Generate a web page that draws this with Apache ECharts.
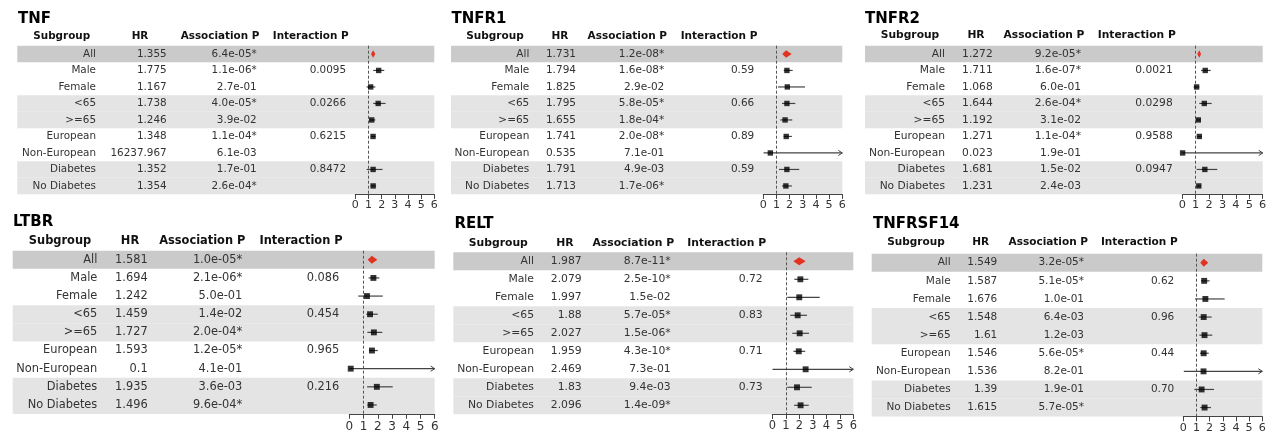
<!DOCTYPE html>
<html><head><meta charset="utf-8">
<script src="https://cdn.jsdelivr.net/npm/echarts@6/dist/echarts.min.js"></script>
<style>html,body{margin:0;padding:0;background:#fff}#c{width:1272px;height:435px}</style>
</head><body><div id="c"></div>
<script>
// ---------- data ----------
const subgroups = ['All', 'Male', 'Female', '<65', '>=65', 'European', 'Non-European', 'Diabetes', 'No Diabetes'];
const headers = ['Subgroup', 'HR', 'Association P', 'Interaction P'];
const xTicks = [0, 1, 2, 3, 4, 5, 6];
const refLine = 1;
const rowShade = ['dark', 'none', 'none', 'light', 'light', 'none', 'none', 'light', 'light'];

const tnfHR     = [1.355, 1.775, 1.167, 1.738, 1.246, 1.348, 16237.967, 1.352, 1.354];
const tnfLower  = [1.19, 1.36, 0.86, 1.36, 1.06, 1.18, 12.5, 0.86, 1.16];
const tnfUpper  = [1.52, 2.20, 1.52, 2.30, 1.52, 1.54, 21000000, 2.07, 1.58];
const tnfAssocP = ['6.4e-05*', '1.1e-06*', '2.7e-01', '4.0e-05*', '3.9e-02', '1.1e-04*', '6.1e-03', '1.7e-01', '2.6e-04*'];
const tnfInterP = ['', '0.0095', '', '0.0266', '', '0.6215', '', '0.8472', ''];

const tnfr1HR     = [1.731, 1.794, 1.825, 1.795, 1.655, 1.741, 0.535, 1.791, 1.713];
const tnfr1Lower  = [1.44, 1.55, 1.12, 1.42, 1.29, 1.55, 0.02, 1.19, 1.42];
const tnfr1Upper  = [2.15, 2.23, 3.17, 2.43, 2.20, 2.17, 14.5, 2.73, 2.17];
const tnfr1AssocP = ['1.2e-08*', '1.6e-08*', '2.9e-02', '5.8e-05*', '1.8e-04*', '2.0e-08*', '7.1e-01', '4.9e-03', '1.7e-06*'];
const tnfr1InterP = ['', '0.59', '', '0.66', '', '0.89', '', '0.59', ''];

const tnfr2HR     = [1.272, 1.711, 1.068, 1.644, 1.192, 1.271, 0.023, 1.681, 1.231];
const tnfr2Lower  = [1.12, 1.40, 0.85, 1.27, 1.03, 1.12, 0.0001, 1.07, 1.08];
const tnfr2Upper  = [1.40, 2.12, 1.27, 2.19, 1.38, 1.44, 6.6, 2.61, 1.40];
const tnfr2AssocP = ['9.2e-05*', '1.6e-07*', '6.0e-01', '2.6e-04*', '3.1e-02', '1.1e-04*', '1.9e-01', '1.5e-02', '2.4e-03'];
const tnfr2InterP = ['', '0.0021', '', '0.0298', '', '0.9588', '', '0.0947', ''];

const ltbrHR     = [1.581, 1.694, 1.242, 1.459, 1.727, 1.593, 0.1, 1.935, 1.496];
const ltbrLower  = [1.29, 1.36, 0.63, 1.20, 1.27, 1.38, 0.0004, 1.25, 1.27];
const ltbrUpper  = [1.97, 2.11, 2.35, 2.00, 2.32, 2.00, 24, 3.05, 1.93];
const ltbrAssocP = ['1.0e-05*', '2.1e-06*', '5.0e-01', '1.4e-02', '2.0e-04*', '1.2e-05*', '4.1e-01', '3.6e-03', '9.6e-04*'];
const ltbrInterP = ['', '0.086', '', '0.454', '', '0.965', '', '0.216', ''];

const reltHR     = [1.987, 2.079, 1.997, 1.88, 2.027, 1.959, 2.469, 1.83, 2.096];
const reltLower  = [1.56, 1.63, 1.11, 1.33, 1.48, 1.56, 0.015, 1.11, 1.61];
const reltUpper  = [2.47, 2.67, 3.51, 2.57, 2.72, 2.44, 410, 2.92, 2.70];
const reltAssocP = ['8.7e-11*', '2.5e-10*', '1.5e-02', '5.7e-05*', '1.5e-06*', '4.3e-10*', '7.3e-01', '9.4e-03', '1.4e-09*'];
const reltInterP = ['', '0.72', '', '0.83', '', '0.71', '', '0.73', ''];

const tnfrsf14HR     = [1.549, 1.587, 1.676, 1.548, 1.61, 1.546, 1.536, 1.39, 1.615];
const tnfrsf14Lower  = [1.29, 1.34, 0.89, 1.17, 1.22, 1.27, 0.04, 0.84, 1.29];
const tnfrsf14Upper  = [1.90, 2.00, 3.14, 2.15, 2.20, 1.93, 62, 2.33, 2.10];
const tnfrsf14AssocP = ['3.2e-05*', '5.1e-05*', '1.0e-01', '6.4e-03', '1.2e-03', '5.6e-05*', '8.2e-01', '1.9e-01', '5.7e-05*'];
const tnfrsf14InterP = ['', '0.62', '', '0.96', '', '0.44', '', '0.70', ''];

const panels = [
  {name: 'TNF', hr: tnfHR, lower: tnfLower, upper: tnfUpper, assoc: tnfAssocP, inter: tnfInterP},
  {name: 'TNFR1', hr: tnfr1HR, lower: tnfr1Lower, upper: tnfr1Upper, assoc: tnfr1AssocP, inter: tnfr1InterP},
  {name: 'TNFR2', hr: tnfr2HR, lower: tnfr2Lower, upper: tnfr2Upper, assoc: tnfr2AssocP, inter: tnfr2InterP},
  {name: 'LTBR', hr: ltbrHR, lower: ltbrLower, upper: ltbrUpper, assoc: ltbrAssocP, inter: ltbrInterP},
  {name: 'RELT', hr: reltHR, lower: reltLower, upper: reltUpper, assoc: reltAssocP, inter: reltInterP},
  {name: 'TNFRSF14', hr: tnfrsf14HR, lower: tnfrsf14Lower, upper: tnfrsf14Upper, assoc: tnfrsf14AssocP, inter: tnfrsf14InterP}
];

// ---------- layout ----------
const layouts = [
  {bandLeft: 17.3, axL: 355.3, axR: 434.3, top: 45.7, rowH: 16.5, titleX: 18, titleY: 19, headerY: 36,
   colRight: [96, 166.7, 256.7, 346], headCenter: [61.7, 140, 220, 310.7], font: 10.4},
  {bandLeft: 451, axL: 763.3, axR: 842.3, top: 45.7, rowH: 16.5, titleX: 451.5, titleY: 19, headerY: 36,
   colRight: [529.3, 576, 664.3, 754.3], headCenter: [495, 560, 627.3, 719], font: 10.5},
  {bandLeft: 865, axL: 1182.3, axR: 1262.7, top: 45.7, rowH: 16.5, titleX: 865, titleY: 19, headerY: 35.7,
   colRight: [945, 992.7, 1081, 1172.7], headCenter: [910, 976, 1044, 1136.7], font: 10.7},
  {bandLeft: 12.7, axL: 349.3, axR: 434.7, top: 250.7, rowH: 18.15, titleX: 13, titleY: 221.7, headerY: 241,
   colRight: [97.3, 147.7, 242.3, 339.3], headCenter: [60, 130, 202.3, 301], font: 11.4},
  {bandLeft: 453.3, axL: 772.3, axR: 853.3, top: 252.3, rowH: 18, titleX: 454.5, titleY: 224.3, headerY: 242.7,
   colRight: [534, 581.7, 670.7, 762.7], headCenter: [498.3, 565, 633.3, 726.7], font: 10.8},
  {bandLeft: 871.7, axL: 1183.3, axR: 1262.3, top: 253.7, rowH: 18.1, titleX: 873, titleY: 224.3, headerY: 242.7,
   colRight: [950.7, 997.3, 1084, 1174.3], headCenter: [916, 980.7, 1048.3, 1139.3], font: 10.5}
];

const FONT = 'DejaVu Sans';
const shadeColor = {dark: '#cacaca', light: '#e4e4e4'};
const xMin = xTicks[0], xMax = xTicks[xTicks.length - 1];

const option = {
  backgroundColor: '#ffffff', animation: false,
  grid: [], xAxis: [], yAxis: [], series: [], graphic: []
};

panels.forEach((p, i) => {
  const L = layouts[i];
  const n = subgroups.length;
  option.grid.push({left: L.axL, top: L.top, width: L.axR - L.axL, height: L.rowH * n});
  option.xAxis.push({
    gridIndex: i, type: 'value', min: xMin, max: xMax, interval: 1,
    axisLine: {show: true, onZero: false, lineStyle: {color: '#444', width: 1}},
    axisTick: {show: true, length: 4.7, lineStyle: {color: '#444', width: 1}},
    axisLabel: {margin: i < 3 ? 5 : 6.5, fontSize: L.font + 0.6, fontFamily: FONT, color: '#333'},
    splitLine: {show: false}
  });
  const cols = [subgroups, p.hr.map(v => String(v)), p.assoc, p.inter];
  const yBase = option.yAxis.length;
  cols.forEach((col, k) => {
    option.yAxis.push({
      gridIndex: i, type: 'category', data: col, inverse: true, position: 'left',
      offset: L.axL - L.colRight[k],
      axisLine: {show: false}, axisTick: {show: false}, splitLine: {show: false},
      axisLabel: {interval: 0, margin: 0, fontSize: L.font, fontFamily: FONT, color: '#333'}
    });
  });

  // row bands
  const bandData = [];
  rowShade.forEach((s, r) => { if (s !== 'none') bandData.push([0, r, s === 'dark' ? 1 : 0]); });
  const ext = L.axL - L.bandLeft;
  option.series.push({
    type: 'custom', xAxisIndex: i, yAxisIndex: yBase, z: -1, silent: true,
    encode: {x: 0, y: 1},
    data: bandData,
    renderItem: (params, api) => {
      const cs = params.coordSys;
      const c = api.coord([0, api.value(1)]);
      const h = api.size([0, 1])[1];
      return {type: 'rect', shape: {x: cs.x - ext, y: c[1] - h / 2, width: cs.width + ext, height: h},
              style: {fill: api.value(2) === 1 ? shadeColor.dark : shadeColor.light}};
    }
  });

  // CI lines for subgroups
  const ciData = [];
  for (let r = 1; r < n; r++) ciData.push([p.lower[r], p.upper[r], r]);
  option.series.push({
    type: 'custom', xAxisIndex: i, yAxisIndex: yBase, silent: true, z: 3,
    encode: {x: [0, 1], y: 2},
    data: ciData,
    renderItem: (params, api) => {
      const lo = api.value(0), hi = api.value(1), r = api.value(2);
      if (lo > xMax || hi < xMin) return null;
      const a = api.coord([Math.max(lo, xMin), r]);
      const b = api.coord([Math.min(hi, xMax), r]);
      const children = [{type: 'line', shape: {x1: a[0], y1: a[1], x2: b[0], y2: b[1]},
                         style: {stroke: '#444', lineWidth: 1.2}}];
      if (hi > xMax) {
        children.push({type: 'polyline', shape: {points: [[b[0] - 4, b[1] - 2.6], [b[0], b[1]], [b[0] - 4, b[1] + 2.6]]},
                       style: {stroke: '#444', lineWidth: 1, fill: null}});
      }
      return {type: 'group', children};
    }
  });

  // point estimates
  const ptData = [];
  for (let r = 1; r < n; r++) ptData.push([p.hr[r], r]);
  option.series.push({
    type: 'scatter', xAxisIndex: i, yAxisIndex: yBase, z: 4, silent: true, clip: true,
    symbol: 'rect', symbolSize: i < 3 ? 5.4 : 5.9,
    itemStyle: {color: '#000'},
    data: ptData,
    markLine: {
      silent: true, symbol: ['none', 'none'], label: {show: false}, z: 2,
      lineStyle: {color: '#555', type: [3, 2], width: 1},
      data: [{xAxis: refLine}]
    }
  });

  // overall diamond
  option.series.push({
    type: 'custom', xAxisIndex: i, yAxisIndex: yBase, silent: true, z: 5,
    encode: {x: [0, 1, 2], y: 3},
    data: [[p.lower[0], p.upper[0], p.hr[0], 0]],
    renderItem: (params, api) => {
      const lo = api.value(0), hi = api.value(1), est = api.value(2), r = api.value(3);
      const pl = api.coord([lo, r]), pe = api.coord([est, r]), ph = api.coord([hi, r]);
      const h = api.size([0, 1])[1] * 0.45 / 2;
      return {type: 'polygon',
              shape: {points: [[pl[0], pl[1]], [pe[0], pe[1] - h], [ph[0], ph[1]], [pe[0], pe[1] + h]]},
              style: {fill: '#e3321f'}};
    }
  });

  // title + headers
  option.graphic.push({type: 'text', x: L.titleX, y: L.titleY, silent: true,
    style: {text: p.name, font: 'bold 15px "DejaVu Sans"', fill: '#000', align: 'left', verticalAlign: 'middle'}});
  headers.forEach((h, k) => {
    option.graphic.push({type: 'text', x: L.headCenter[k], y: L.headerY, silent: true,
      style: {text: h, font: 'bold ' + L.font + 'px "DejaVu Sans"', fill: '#111', align: 'center', verticalAlign: 'middle'}});
  });
});

const chart = echarts.init(document.getElementById('c'), null, {renderer: 'canvas'});
chart.setOption(option);
</script>
</body></html>
